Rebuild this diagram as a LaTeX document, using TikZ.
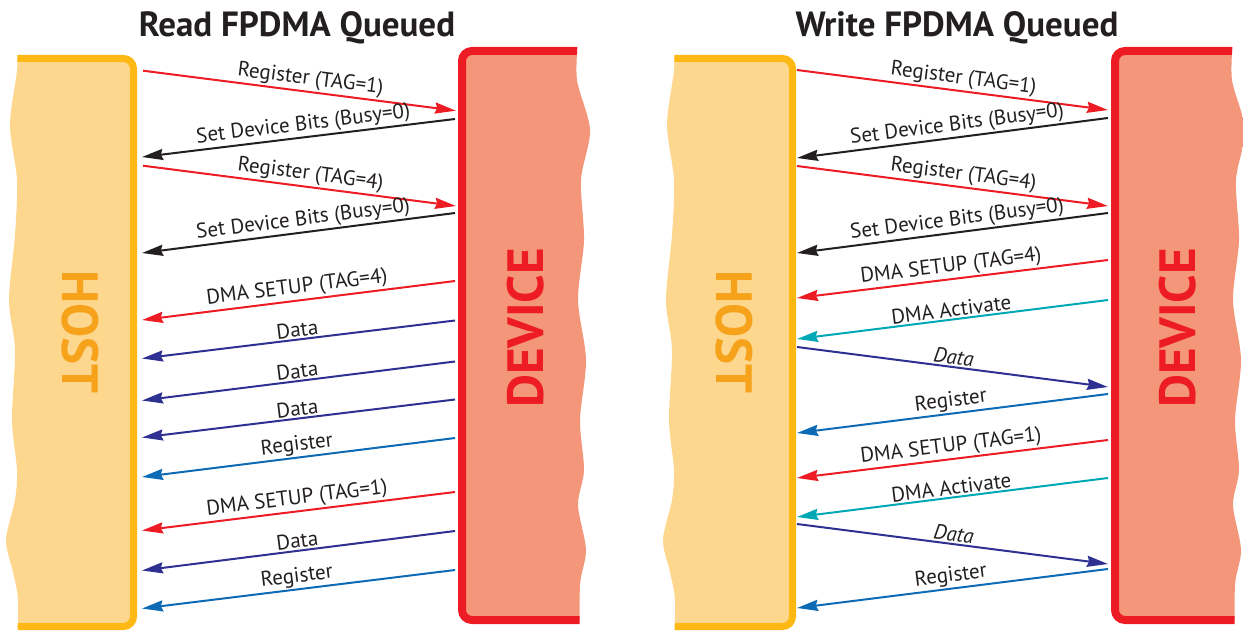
\documentclass[tikz,border=0pt]{standalone}
\usepackage{fontspec}
\setmainfont{PT Sans}
\usetikzlibrary{arrows.meta}
\definecolor{hostfill}{RGB}{253,215,142}
\definecolor{hostline}{RGB}{253,184,19}
\definecolor{hosttext}{RGB}{247,162,27}
\definecolor{devfill}{RGB}{244,150,122}
\definecolor{devline}{RGB}{237,28,36}
\definecolor{cred}{RGB}{237,28,36}
\definecolor{cblack}{RGB}{35,31,32}
\definecolor{cnavy}{RGB}{46,49,146}
\definecolor{cblue}{RGB}{13,106,180}
\definecolor{ccyan}{RGB}{0,167,181}
\definecolor{txt}{RGB}{35,31,32}
\tikzset{
  msg/.style={line width=2pt, -{Stealth[length=21pt,width=11pt,inset=2pt]}},
  lbl/.style={sloped, above, midway, inner sep=1.5pt, font=\fontsize{21}{21}\selectfont, text=txt},
  ilbl/.style={lbl, font=\fontsize{21}{21}\selectfont\itshape},
  ttl/.style={font=\fontsize{35}{35}\selectfont\bfseries, text=txt},
  hosttxt/.style={font=\fontsize{51}{51}\selectfont\bfseries, text=hosttext, rotate=-90},
  devtxt/.style={font=\fontsize{51}{51}\selectfont\bfseries, text=devline, rotate=90}
}
\newcommand\hostbox[2]{%
\begin{scope}[xshift=#1pt]
\begin{scope}
\clip plot[smooth] coordinates {(0,40) (0,70) (-7,125) (0,180) (-2,235) (-8,300) (-2,350) (-5,420) (0,470) (-2,500) (-11,540) (-4,572) (1,600) (0,645)} -- (#2+20,645) -- (#2+20,40) -- cycle;
\fill[hostfill, rounded corners=10pt] (-30,58.5) -- (#2,58.5) -- (#2,626.5) -- (-30,626.5) -- cycle;
\draw[hostline, line width=7pt, rounded corners=10pt] (-30,58.5) -- (#2,58.5) -- (#2,626.5) -- (-30,626.5);
\end{scope}
\end{scope}}
\newcommand\devbox[2]{%
\begin{scope}[xshift=#1pt]
\begin{scope}
\clip (-30,40) -- plot[smooth] coordinates {(#2,40) (#2-1,80) (#2+12,130) (#2+3,180) (#2+6,240) (#2,300) (#2+8,360) (#2+2,420) (#2+6,470) (#2,505) (#2+8,550) (#2+2,585) (#2+2,645)} -- (-30,645) -- cycle;
\fill[devfill, rounded corners=10pt] (200,51) -- (0,51) -- (0,620) -- (200,620) -- cycle;
\draw[devline, line width=8pt, rounded corners=10pt] (200,51) -- (0,51) -- (0,620) -- (200,620);
\end{scope}
\end{scope}}
\begin{document}
\begin{tikzpicture}[x=1pt, y=-1pt]
\useasboundingbox (0,0) rectangle (1243,631);
% boxes
\hostbox{17}{116.5}
\devbox{462}{116}
\hostbox{674}{118.5}
\devbox{1115}{118}
% titles and box labels
\node[ttl] (titleL) at (297,28) {Read FPDMA Queued};
\node[ttl] (titleR) at (957,28) {Write FPDMA Queued};
\node[hosttxt] (hostL) at (80,332) {HOST};
\node[devtxt] (devL) at (526,328) {DEVICE};
\node[hosttxt] (hostR) at (734,332) {HOST};
\node[devtxt] (devR) at (1178,328) {DEVICE};
% left panel messages
\coordinate (a1) at (143,70.7);  \coordinate (b1) at (456,110.7);
\coordinate (a2) at (142,157);   \coordinate (b2) at (455,119);
\coordinate (a3) at (143,165.7); \coordinate (b3) at (456,206);
\coordinate (a4) at (142,253);   \coordinate (b4) at (455,213);
\coordinate (a5) at (142,320);   \coordinate (b5) at (455,281);
\coordinate (a6) at (142,358.5); \coordinate (b6) at (455,320.5);
\coordinate (a7) at (142,400.5); \coordinate (b7) at (455,361.5);
\coordinate (a8) at (142,437.5); \coordinate (b8) at (455,399.5);
\coordinate (a9) at (142,477);   \coordinate (b9) at (455,438);
\coordinate (a10) at (142,530.5); \coordinate (b10) at (455,492);
\coordinate (a11) at (142,570.5); \coordinate (b11) at (455,531);
\coordinate (a12) at (142,608.5); \coordinate (b12) at (455,570);
\draw[msg, cred] (a1) -- node[lbl, pos=0.53] {Register (TAG=1)} (b1);
\draw[msg, cblack] (b2) -- node[lbl, pos=0.48] {Set Device Bits (Busy=0)} (a2);
\draw[msg, cred] (a3) -- node[lbl, pos=0.53] {Register (TAG=4)} (b3);
\draw[msg, cblack] (b4) -- node[lbl, pos=0.48] {Set Device Bits (Busy=0)} (a4);
\draw[msg, cred] (b5) -- node[lbl] {DMA SETUP (TAG=4)} (a5);
\draw[msg, cnavy] (b6) -- node[lbl] {Data} (a6);
\draw[msg, cnavy] (b7) -- node[lbl] {Data} (a7);
\draw[msg, cnavy] (b8) -- node[lbl] {Data} (a8);
\draw[msg, cblue] (b9) -- node[lbl] {Register} (a9);
\draw[msg, cred] (b10) -- node[lbl] {DMA SETUP (TAG=1)} (a10);
\draw[msg, cnavy] (b11) -- node[lbl] {Data} (a11);
\draw[msg, cblue] (b12) -- node[lbl] {Register} (a12);
% right panel messages
\coordinate (c1) at (797,70);   \coordinate (d1) at (1108,110);
\coordinate (c2) at (797,158);  \coordinate (d2) at (1108,118);
\coordinate (c3) at (797,166);  \coordinate (d3) at (1108,206);
\coordinate (c4) at (797,253);  \coordinate (d4) at (1108,213);
\coordinate (c5) at (797,298);  \coordinate (d5) at (1108,260);
\coordinate (c6) at (797,339);  \coordinate (d6) at (1108,300);
\coordinate (c7) at (797,347);  \coordinate (d7) at (1108,387);
\coordinate (c8) at (797,433);  \coordinate (d8) at (1108,394);
\coordinate (c9) at (797,478);  \coordinate (d9) at (1108,440);
\coordinate (c10) at (797,517); \coordinate (d10) at (1108,478);
\coordinate (c11) at (797,524); \coordinate (d11) at (1108,564);
\coordinate (c12) at (797,608); \coordinate (d12) at (1108,569);
\draw[msg, cred] (c1) -- node[lbl, pos=0.53] {Register (TAG=1)} (d1);
\draw[msg, cblack] (d2) -- node[lbl, pos=0.48] {Set Device Bits (Busy=0)} (c2);
\draw[msg, cred] (c3) -- node[lbl, pos=0.53] {Register (TAG=4)} (d3);
\draw[msg, cblack] (d4) -- node[lbl, pos=0.48] {Set Device Bits (Busy=0)} (c4);
\draw[msg, cred] (d5) -- node[lbl] {DMA SETUP (TAG=4)} (c5);
\draw[msg, ccyan] (d6) -- node[lbl] {DMA Activate} (c6);
\draw[msg, cnavy] (c7) -- node[ilbl] {Data} (d7);
\draw[msg, cblue] (d8) -- node[lbl] {Register} (c8);
\draw[msg, cred] (d9) -- node[lbl] {DMA SETUP (TAG=1)} (c9);
\draw[msg, ccyan] (d10) -- node[lbl] {DMA Activate} (c10);
\draw[msg, cnavy] (c11) -- node[ilbl] {Data} (d11);
\draw[msg, cblue] (d12) -- node[lbl] {Register} (c12);
\end{tikzpicture}
\end{document}
